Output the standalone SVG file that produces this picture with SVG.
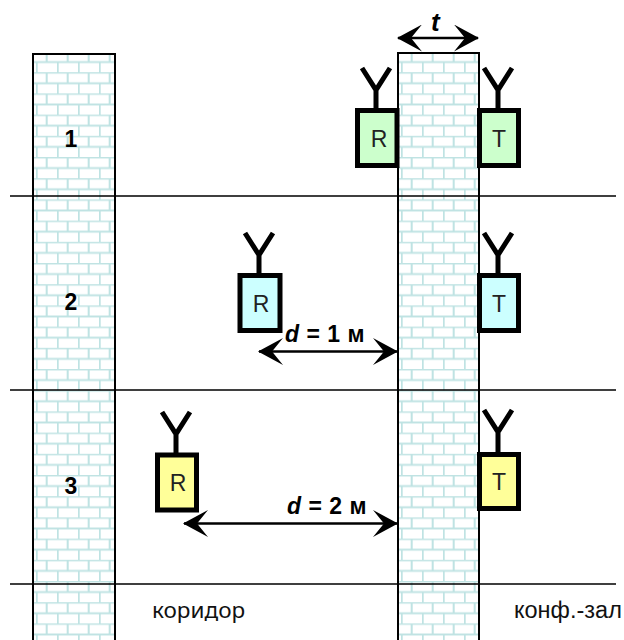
<svg xmlns="http://www.w3.org/2000/svg" width="624" height="640" viewBox="0 0 624 640">
<style>
.h{fill:none;stroke:#000;stroke-width:1.5}
.wall{stroke:#000;stroke-width:2}
.a{fill:none;stroke:#000;stroke-width:5}
.box{stroke:#000;stroke-width:5}
.g{fill:#ccffcc}.b{fill:#ccffff}.y{fill:#ffff99}
.l{font-family:"Liberation Sans",Arial,sans-serif;font-size:23px;fill:#222;text-anchor:middle}
.n{font-family:"Liberation Sans",Arial,sans-serif;font-size:23px;font-weight:bold;fill:#000;text-anchor:middle}
.d{font-family:"Liberation Sans",Arial,sans-serif;font-size:23px;font-weight:bold;fill:#000;word-spacing:1px}
.c{font-family:"Noto Sans",sans-serif;font-size:22.500px;fill:#111}
.c2{font-family:"Liberation Sans",Arial,sans-serif;font-size:23.500px;fill:#111}
.arr{stroke:#000;stroke-width:2.5;fill:none;marker-start:url(#ah);marker-end:url(#ah)}
</style>
<defs>
<pattern id="br1" patternUnits="userSpaceOnUse" x="36" y="51" width="21" height="21.2">
<rect width="21" height="21.2" fill="#fff"/>
<path d="M0 .5H21M0 11.1H21M10.7 0V10.6M.7 10.6V21.2" fill="none" stroke="#bfe3e3" stroke-width="2"/>
</pattern>
<pattern id="br2" patternUnits="userSpaceOnUse" x="401" y="51" width="21" height="21.2">
<rect width="21" height="21.2" fill="#fff"/>
<path d="M0 .5H21M0 11.1H21M10.7 0V10.6M.7 10.6V21.2" fill="none" stroke="#bfe3e3" stroke-width="2"/>
</pattern>
<marker id="ah" viewBox="0 0 25 27" refX="24" refY="13.500" markerWidth="25" markerHeight="27" markerUnits="userSpaceOnUse" orient="auto-start-reverse">
<path d="M0 0L25 13.500L0 27L11 13.500Z" fill="#000"/>
</marker>
</defs>
<g id="wall-left"><rect class="wall" x="33" y="54" width="82" height="600" fill="url(#br1)"/></g>
<g id="wall-right"><rect class="wall" x="398" y="53" width="81" height="600" fill="url(#br2)"/></g>
<g id="connectors">
<path class="h" d="M10 196H616M10 390H616M10 584H616"/>
<path class="arr" d="M398 38H478"/>
<path class="arr" d="M259 351.500H397"/>
<path class="arr" d="M184 523.500H397"/>
</g>
<g id="r1"><path class="a" d="M362 68L376 90L390 68M376 88V110"/><rect class="box g" x="357.500" y="110.500" width="39.500" height="55"/><text class="l" x="379" y="147">R</text></g>
<g id="t1"><path class="a" d="M484 68L498 90L512 68M498 88V110"/><rect class="box g" x="479.500" y="110.500" width="39" height="55"/><text class="l" x="499" y="147">T</text></g>
<g id="r2"><path class="a" d="M245 233L259 255L273 233M259 253V275"/><rect class="box b" x="240" y="275.500" width="40" height="55"/><text class="l" x="261" y="312">R</text></g>
<g id="t2"><path class="a" d="M484 233L498 255L512 233M498 253V275"/><rect class="box b" x="479.500" y="275.500" width="39" height="55"/><text class="l" x="499" y="312">T</text></g>
<g id="r3"><path class="a" d="M162 412L176 434L190 412M176 432V455"/><rect class="box y" x="157.500" y="455" width="39" height="55"/><text class="l" x="178" y="491">R</text></g>
<g id="t3"><path class="a" d="M484 410L498 432L512 410M498 430V452"/><rect class="box y" x="479.500" y="454.500" width="39" height="54"/><text class="l" x="499" y="490">T</text></g>
<g id="labels">
<text class="n" x="71" y="147">1</text>
<text class="n" x="71" y="310">2</text>
<text class="n" x="71" y="494">3</text>
<text class="d" x="431" y="31" font-style="italic" style="font-size:26px">t</text>
<text class="d" x="285" y="342"><tspan font-style="italic">d</tspan> = 1 м</text>
<text class="d" x="287" y="514"><tspan font-style="italic">d</tspan> = 2 м</text>
<text class="c" x="152" y="618">коридор</text>
<text class="c2" x="514" y="618">конф.-зал</text>
</g>
</svg>
